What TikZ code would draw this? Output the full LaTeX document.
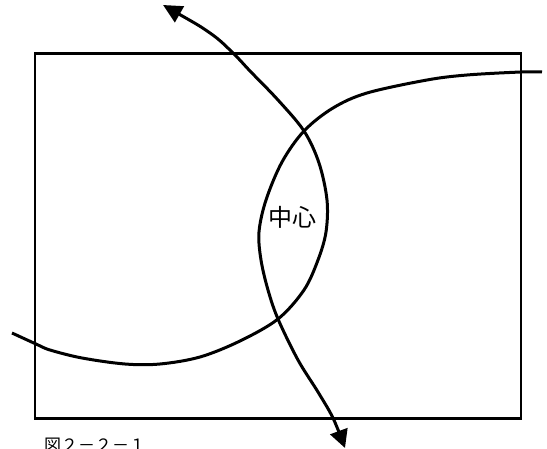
\documentclass[tikz,border=0pt]{standalone}
\usepackage{fontspec}
\newfontfamily\jp{Noto Sans CJK JP}
\usetikzlibrary{arrows.meta}
\tikzset{
  frame/.style={line width=2.2pt, draw=black},
  curve/.style={line width=3pt, draw=black, line join=round},
}
\begin{document}
\begin{tikzpicture}[x=1pt,y=-1pt]
\fill[white] (0,0) rectangle (547,449);
\useasboundingbox (0,0) rectangle (547,449);
\clip (0,0) rectangle (547,449);
\draw[frame] (35,53.5) rectangle (521,418.5);
% curve from top arrow, right side of oval, to left end
\draw[curve, {Triangle[length=19pt,width=18pt]}-] plot[smooth, tension=0.55] coordinates {
  (163,5) (210,33) (233,53) (250,71) (278,100) (304,131) (319,163) (327,200)
  (326,232) (318,260) (304,290) (278,319) (240,341) (200,357) (160,364) (125,364)
  (82,358) (50,350) (36,344) (12,333)};
% curve from right end, left side of oval, to bottom arrow
\draw[curve, -{Triangle[length=18pt,width=18pt]}] plot[smooth, tension=0.55] coordinates {
  (542,72) (521,72) (467,75) (427,80) (367,93) (333,108) (304,131) (282,162)
  (266,200) (259,232) (261,260) (268,290) (278,319) (298,360) (318,392) (333,418) (345,448)};
\node[font=\jp\fontsize{24}{24}\selectfont, inner sep=0pt] (c) at (292,217) {中心};
\node[font=\jp\fontsize{17}{17}\selectfont, inner sep=0pt, anchor=base west] (cap) at (44,452) {図２－２－１};
\end{tikzpicture}
\end{document}
